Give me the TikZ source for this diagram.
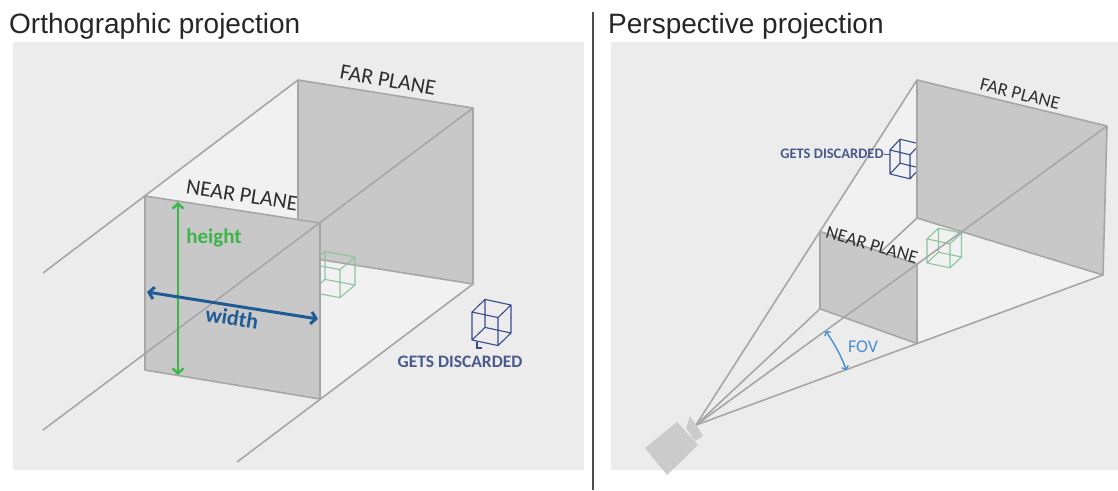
\documentclass[tikz,border=0pt]{standalone}
\usepackage{fontspec}
\setmainfont{Liberation Sans}
\newfontfamily\lbl{Carlito}
\usetikzlibrary{arrows.meta,calc}

\definecolor{panelbg}{HTML}{ECECEC}
\definecolor{insidebg}{HTML}{F1F1F1}
\definecolor{planegray}{HTML}{C8C8C8}
\definecolor{edgegray}{HTML}{A6A6A6}
\definecolor{labelblack}{HTML}{2E2E2E}
\definecolor{heightgreen}{HTML}{3CB54A}
\definecolor{widthblue}{HTML}{1F5B94}
\definecolor{discblue}{HTML}{4B5A8C}
\definecolor{cubeblue}{HTML}{3A4A8E}
\definecolor{cubegreen}{HTML}{8CC4A0}
\definecolor{fovblue}{HTML}{4A90D0}
\definecolor{camgray}{HTML}{CBCBCB}

\begin{document}
\begin{tikzpicture}
    [
    x=1pt,y=-1pt,
    panel/.style={fill=panelbg,draw=none},
    inside/.style={fill=insidebg,draw=none},
    plane/.style={fill=planegray,draw=edgegray,line width=1.6pt,line join=round},
    edge/.style={draw=edgegray,line width=1.6pt},
    title/.style={anchor=base west,inner sep=0pt,font=\fontsize{28}{30}\selectfont,text=black!85},
    planelabel/.style={inner sep=0pt,text=labelblack},
    wirecube/.pic={
      \draw[line width=1.1pt,line join=round]
        (0,0) -- (1,0.2) -- (1,-0.8) -- (0,-1) -- cycle
        (0.5,-0.45) -- (1.5,-0.25) -- (1.5,-1.25) -- (0.5,-1.45) -- cycle
        (0,0) -- (0.5,-0.45) (1,0.2) -- (1.5,-0.25)
        (1,-0.8) -- (1.5,-1.25) (0,-1) -- (0.5,-1.45);
    }
    ]
    \useasboundingbox (0,0) rectangle (1118,490);

    % titles and divider
    \node (orthotitle) at (9,33) [title] {Orthographic projection};
    \node (perstitle) at (608,33) [title] {Perspective projection};
    \coordinate (divtop) at (593,12);
    \coordinate (divbot) at (593,490);
    \draw [line width=2pt,draw=black!70] (divtop) -- (divbot);

    % orthographic box
    \fill [panel] (13,42) rectangle (584,470);
    \coordinate (oa) at (43,273);
    \coordinate (ob) at (43,430);
    \coordinate (oc) at (237,462);
    \coordinate (ftl) at (298,80);
    \coordinate (ftr) at (473,108);
    \coordinate (fbr) at (473,284);
    \coordinate (fbl) at (298,256);
    \coordinate (ntl) at (145,196);
    \coordinate (ntr) at (320,223);
    \coordinate (nbr) at (320,399);
    \coordinate (nbl) at (145,370);
    \fill [inside] (ntl) -- (ftl) -- (ftr) -- (fbr) -- (nbr) -- (nbl) -- cycle;
    \node (onear) at (242,195) [planelabel,rotate=-9,font=\lbl\fontsize{22}{24}\selectfont] {NEAR PLANE};
    \draw [plane] (ftl) -- (ftr) -- (fbr) -- (fbl) -- cycle;
    \pic [color=cubegreen,xscale=30,yscale=28] at (310,292) {wirecube};
    \draw [plane] (ntl) -- (ntr) -- (nbr) -- (nbl) -- cycle;
    \draw [edge] (oa) -- (ftl);
    \draw [edge] (ob) -- (ftr);
    \draw [edge] (oc) -- (fbr);
    \node (ofar) at (388,80) [planelabel,rotate=-10,font=\lbl\fontsize{22}{24}\selectfont] {FAR PLANE};

    \coordinate (htop) at (178,202);
    \coordinate (hbot) at (178,375);
    \draw [heightgreen,line width=2.4pt,{Straight Barb[length=5pt,width=11pt]}-{Straight Barb[length=5pt,width=11pt]}] (htop) -- (hbot);
    \node (oheight) at (214,238) [inner sep=0pt,text=heightgreen,font=\lbl\bfseries\fontsize{21}{22}\selectfont] {height};
    \coordinate (wleft) at (147,292);
    \coordinate (wright) at (318,319);
    \draw [widthblue,line width=3pt,{Straight Barb[length=5pt,width=12pt]}-{Straight Barb[length=5pt,width=12pt]}] (wleft) -- (wright);
    \node (owidth) at (232,318) [inner sep=0pt,rotate=-9,text=widthblue,font=\lbl\bfseries\fontsize{22}{24}\selectfont] {width};

    \pic [color=cubeblue,xscale=26,yscale=28] at (472,340) {wirecube};
    \coordinate (tail) at (477,342);
    \draw [cubeblue,line width=1.1pt] (tail) -- ++(0,6) -- ++(5,0);
    \node (odisc) at (460,362) [inner sep=0pt,text=discblue,font=\lbl\bfseries\fontsize{17.5}{20}\selectfont] {GETS DISCARDED};

    % perspective frustum
    \fill [panel] (611,42) rectangle (1118,470);
    \coordinate (ap) at (696,425);
    \coordinate (pftl) at (917,80);
    \coordinate (pftr) at (1107,126);
    \coordinate (pfbr) at (1103,275);
    \coordinate (pfbl) at (917,218);
    \coordinate (pntl) at ($(ap)!0.561!(pftl)$);
    \coordinate (pntr) at ($(ap)!0.538!(pftr)$);
    \coordinate (pnbr) at ($(ap)!0.543!(pfbr)$);
    \coordinate (pnbl) at ($(ap)!0.561!(pfbl)$);
    \fill [inside] (pntl) -- (pftl) -- (pftr) -- (pfbr) -- (pnbr) -- (pnbl) -- cycle;
    \draw [edge] (ap) -- (pftl);
    \draw [edge] (ap) -- (pfbl);
    \draw [edge] (ap) -- (pfbr);
    \pic [color=cubeblue,xscale=20,yscale=24] at (890,174) {wirecube};
    \draw [plane] (pftl) -- (pftr) -- (pfbr) -- (pfbl) -- cycle;
    \pic [color=cubegreen,xscale=23,yscale=24] at (927,263) {wirecube};
    \draw [plane] (pntl) -- (pntr) -- (pnbr) -- (pnbl) -- cycle;
    \draw [edge] (ap) -- (pftr);
    \node (pnear) at (872,245) [planelabel,rotate=-16,font=\lbl\fontsize{18.5}{20}\selectfont] {NEAR PLANE};
    \node (pfar) at (1020,94) [planelabel,rotate=-14,font=\lbl\fontsize{18.5}{20}\selectfont] {FAR PLANE};

    \node (pdisc) at (832,154) [inner sep=0pt,text=discblue,font=\lbl\bfseries\fontsize{14.5}{16}\selectfont] {GETS DISCARDED};
    \coordinate (pdiscend) at (890,154);
    \draw [discblue,line width=1pt] (pdisc.east) -- (pdiscend);

    \coordinate (fovstart) at ($(ap)+(150.4,-54.7)$);
    \draw [fovblue,line width=1.4pt,{Straight Barb[length=3pt,width=7pt]}-{Straight Barb[length=3pt,width=7pt]}] (fovstart) arc [start angle=20,end angle=36,radius=160pt];
    \node (pfov) at (863,347) [inner sep=0pt,text=fovblue,font=\lbl\fontsize{18}{20}\selectfont] {FOV};

    % camera
    \fill [camgray] (645,448) -- (667,475) -- (698,445) -- (677,422) -- cycle;
    \fill [camgray] (686,428) -- (690,416) -- (697,426) -- (703,436) -- (695,441) -- cycle;
  \end{tikzpicture}
\end{document}
